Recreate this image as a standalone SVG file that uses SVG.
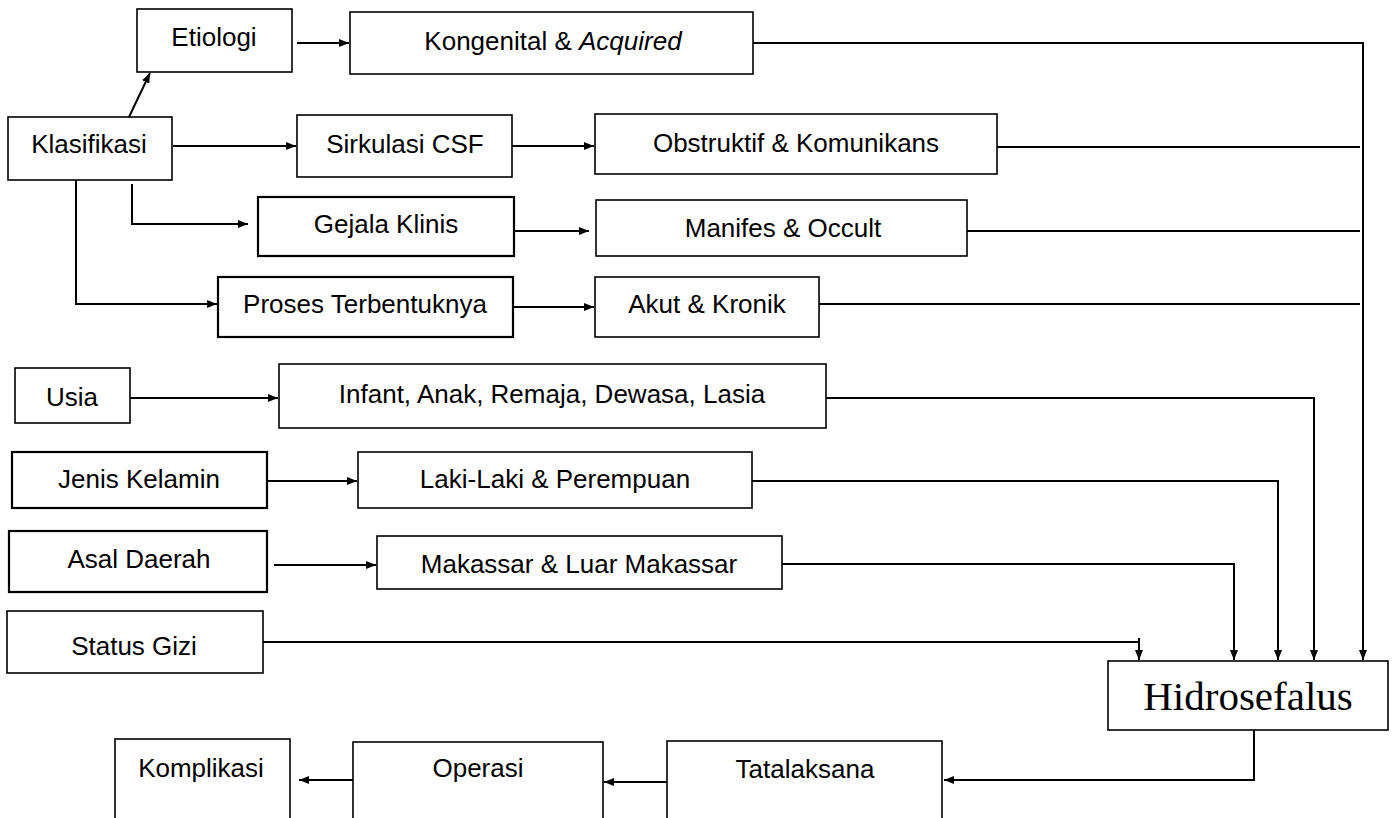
<svg xmlns="http://www.w3.org/2000/svg" width="1395" height="818" viewBox="0 0 1395 818">
<style>
.box{fill:#fff;stroke:#000;stroke-width:1.6}
.thick{stroke-width:2.2}
.t{font-family:"Liberation Sans",Arial,sans-serif;font-size:26px;fill:#000;text-anchor:middle}
.big{font-family:"Liberation Serif","Times New Roman",serif;font-size:41px;fill:#000;text-anchor:middle}
.c{fill:none;stroke:#000;stroke-width:2}
.a{marker-end:url(#ah)}
</style>
<defs>
<marker id="ah" viewBox="0 0 10 8" refX="10" refY="4" markerWidth="10" markerHeight="8" markerUnits="userSpaceOnUse" orient="auto">
<path d="M0,0 L10,4 L0,8 z" fill="#000"/>
</marker>
</defs>
<rect width="1395" height="818" fill="#fff"/>
<g id="connectors">
<path class="c a" d="M297,43 L349,43"/>
<path class="c a" d="M129,117 L150,73"/>
<path class="c a" d="M173,146 L296,146"/>
<path class="c a" d="M512,146 L594,146"/>
<path class="c a" d="M132,184 L132,224 L248,224"/>
<path class="c a" d="M514,231 L589,231"/>
<path class="c a" d="M76,180 L76,304 L217,304"/>
<path class="c a" d="M513,307 L594,307"/>
<path class="c a" d="M753,43 L1363,43 L1363,660"/>
<path class="c" d="M997,147 L1360,147"/>
<path class="c" d="M967,231 L1360,231"/>
<path class="c" d="M819,304 L1360,304"/>
<path class="c a" d="M130,398 L278,398"/>
<path class="c a" d="M826,398 L1314,398 L1314,660"/>
<path class="c a" d="M267,481 L357,481"/>
<path class="c a" d="M752,481 L1278,481 L1278,660"/>
<path class="c a" d="M274,565 L376,565"/>
<path class="c a" d="M782,564 L1234,564 L1234,660"/>
<path class="c" d="M263,642 L1139,642"/>
<path class="c a" d="M1139,638 L1139,660"/>
<path class="c a" d="M1254,730 L1254,780 L944,780"/>
<path class="c a" d="M667,782 L604,782"/>
<path class="c a" d="M353,780 L299,780"/>
</g>
<g id="etiologi"><rect class="box" x="137" y="9" width="155" height="63"/><text class="t" x="214" y="46">Etiologi</text></g>
<g id="kongenital"><rect class="box" x="350" y="12" width="403" height="62"/><text class="t" x="553" y="50">Kongenital &amp; <tspan font-style="italic">Acquired</tspan></text></g>
<g id="klasifikasi"><rect class="box" x="8" y="117" width="164" height="63"/><text class="t" x="89" y="153">Klasifikasi</text></g>
<g id="sirkulasi"><rect class="box" x="297" y="115" width="215" height="62"/><text class="t" x="405" y="153">Sirkulasi CSF</text></g>
<g id="obstruktif"><rect class="box" x="595" y="114" width="402" height="60"/><text class="t" x="796" y="152">Obstruktif &amp; Komunikans</text></g>
<g id="gejala"><rect class="box thick" x="258" y="197" width="256" height="59"/><text class="t" x="386" y="233">Gejala Klinis</text></g>
<g id="manifes"><rect class="box" x="596" y="200" width="371" height="56"/><text class="t" x="783" y="237">Manifes &amp; Occult</text></g>
<g id="proses"><rect class="box thick" x="218" y="277" width="295" height="60"/><text class="t" x="365" y="313">Proses Terbentuknya</text></g>
<g id="akut"><rect class="box" x="595" y="277" width="224" height="60"/><text class="t" x="707" y="313">Akut &amp; Kronik</text></g>
<g id="usia"><rect class="box" x="15" y="368" width="115" height="55"/><text class="t" x="72" y="406">Usia</text></g>
<g id="infant"><rect class="box" x="279" y="364" width="547" height="64"/><text class="t" x="552" y="403">Infant, Anak, Remaja, Dewasa, Lasia</text></g>
<g id="jenis"><rect class="box thick" x="12" y="452" width="255" height="56"/><text class="t" x="139" y="488">Jenis Kelamin</text></g>
<g id="laki"><rect class="box" x="358" y="452" width="394" height="56"/><text class="t" x="555" y="488">Laki-Laki &amp; Perempuan</text></g>
<g id="asal"><rect class="box thick" x="9" y="531" width="258" height="61"/><text class="t" x="139" y="568">Asal Daerah</text></g>
<g id="makassar"><rect class="box" x="377" y="536" width="405" height="53"/><text class="t" x="579" y="573">Makassar &amp; Luar Makassar</text></g>
<g id="gizi"><rect class="box" x="7" y="611" width="256" height="62"/><text class="t" x="134" y="655">Status Gizi</text></g>
<g id="hidrosefalus"><rect class="box" x="1108" y="661" width="280" height="69"/><text class="big" x="1248" y="710">Hidrosefalus</text></g>
<g id="tatalaksana"><rect class="box" x="667" y="741" width="275" height="100"/><text class="t" x="805" y="778">Tatalaksana</text></g>
<g id="operasi"><rect class="box" x="353" y="742" width="250" height="100"/><text class="t" x="478" y="777">Operasi</text></g>
<g id="komplikasi"><rect class="box" x="115" y="739" width="175" height="100"/><text class="t" x="201" y="777">Komplikasi</text></g>
</svg>
